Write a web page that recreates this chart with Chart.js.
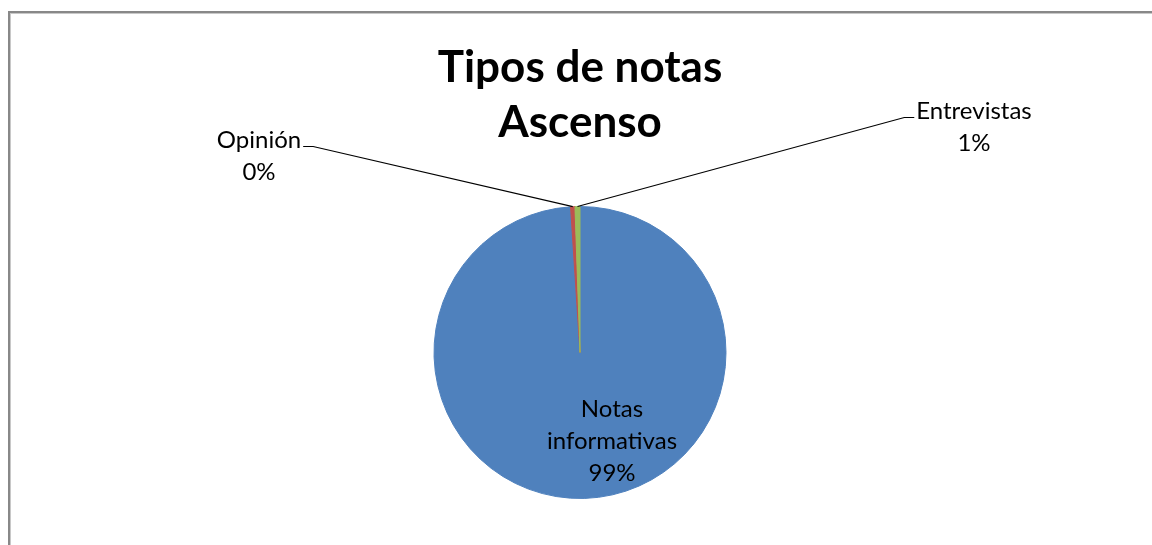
<!DOCTYPE html>
<html>
<head>
<meta charset="utf-8">
<script src="https://cdn.jsdelivr.net/npm/chart.js@4.4.0/dist/chart.umd.min.js"></script>
<style>
html,body{margin:0;padding:0;background:#fff;}
#wrap{position:relative;width:1152px;height:545px;overflow:hidden;}
#frame{position:absolute;left:8px;top:11px;width:1200px;height:600px;border-top:2px solid #888;border-left:2px solid #888;box-shadow:inset 1px 1px 0 #c8c8c8;}
canvas{position:absolute;left:0;top:0;}
</style>
</head>
<body>
<div id="wrap">
<div id="frame"></div>
<canvas id="c" width="1152" height="545"></canvas>
</div>
<script>
const titleLines = ["Tipos de notas", "Ascenso"];
const categories = ["Notas informativas", "Opinión", "Entrevistas"];
const values = [98.97, 0.48, 0.55];
const colors = ["#4F81BD", "#C0504D", "#9BBB59"];
// label anchor offsets (text block centre, relative to the pie centre)
const labelOffsets = [[32, 89], [-321, -196], [394, -225]];

const FONT = "Lato, 'Open Sans', sans-serif";

const labelPlugin = {
  id: 'pieLabels',
  afterDatasetsDraw(chart) {
    const ctx = chart.ctx;
    const meta = chart.getDatasetMeta(0);
    const total = values.reduce((a, b) => a + b, 0);
    ctx.save();
    meta.data.forEach((arc, i) => {
      const p = arc.getProps(['x', 'y', 'startAngle', 'endAngle', 'outerRadius'], true);
      const pct = Math.round(values[i] / total * 100) + '%';
      const name = categories[i];
      const lx = p.x + labelOffsets[i][0];
      const ly = p.y + labelOffsets[i][1];
      ctx.fillStyle = '#000';
      ctx.font = '24px ' + FONT;
      ctx.textAlign = 'center';
      ctx.textBaseline = 'middle';
      let lines;
      if (i === 0) lines = ['Notas', 'informativas', pct];
      else lines = [name, pct];
      const lh = 32;
      const top = ly - (lines.length - 1) * lh / 2;
      lines.forEach((t, k) => ctx.fillText(t, lx, top + k * lh));
      if (i > 0) {
        const mid = (p.startAngle + p.endAngle) / 2;
        const ex = p.x + Math.cos(mid) * p.outerRadius;
        const ey = p.y + Math.sin(mid) * p.outerRadius;
        const w = ctx.measureText(name).width;
        const firstY = top;
        let hx, tx;
        if (lx < p.x) { hx = lx + w / 2 + 2; tx = hx + 10; }
        else { hx = lx - w / 2 - 2; tx = hx - 10; }
        ctx.strokeStyle = '#000';
        ctx.lineWidth = 1.2;
        ctx.beginPath();
        ctx.moveTo(hx, firstY + 6);
        ctx.lineTo(tx, firstY + 6);
        ctx.lineTo(ex, ey);
        ctx.stroke();
      }
    });
    ctx.restore();
  }
};

new Chart(document.getElementById('c'), {
  type: 'pie',
  data: {
    labels: categories,
    datasets: [{
      data: values,
      backgroundColor: colors,
      borderColor: colors,
      borderWidth: 1
    }]
  },
  options: {
    responsive: false,
    animation: false,
    layout: { padding: { left: 8, top: 0, bottom: 46, right: 0 } },
    plugins: {
      legend: { display: false },
      tooltip: { enabled: false },
      title: {
        display: true,
        text: titleLines,
        color: '#000',
        font: { family: FONT, size: 44, weight: 'bold', lineHeight: 1.25 },
        padding: { top: 40, bottom: 56 }
      }
    }
  },
  plugins: [labelPlugin]
});
</script>
</body>
</html>
